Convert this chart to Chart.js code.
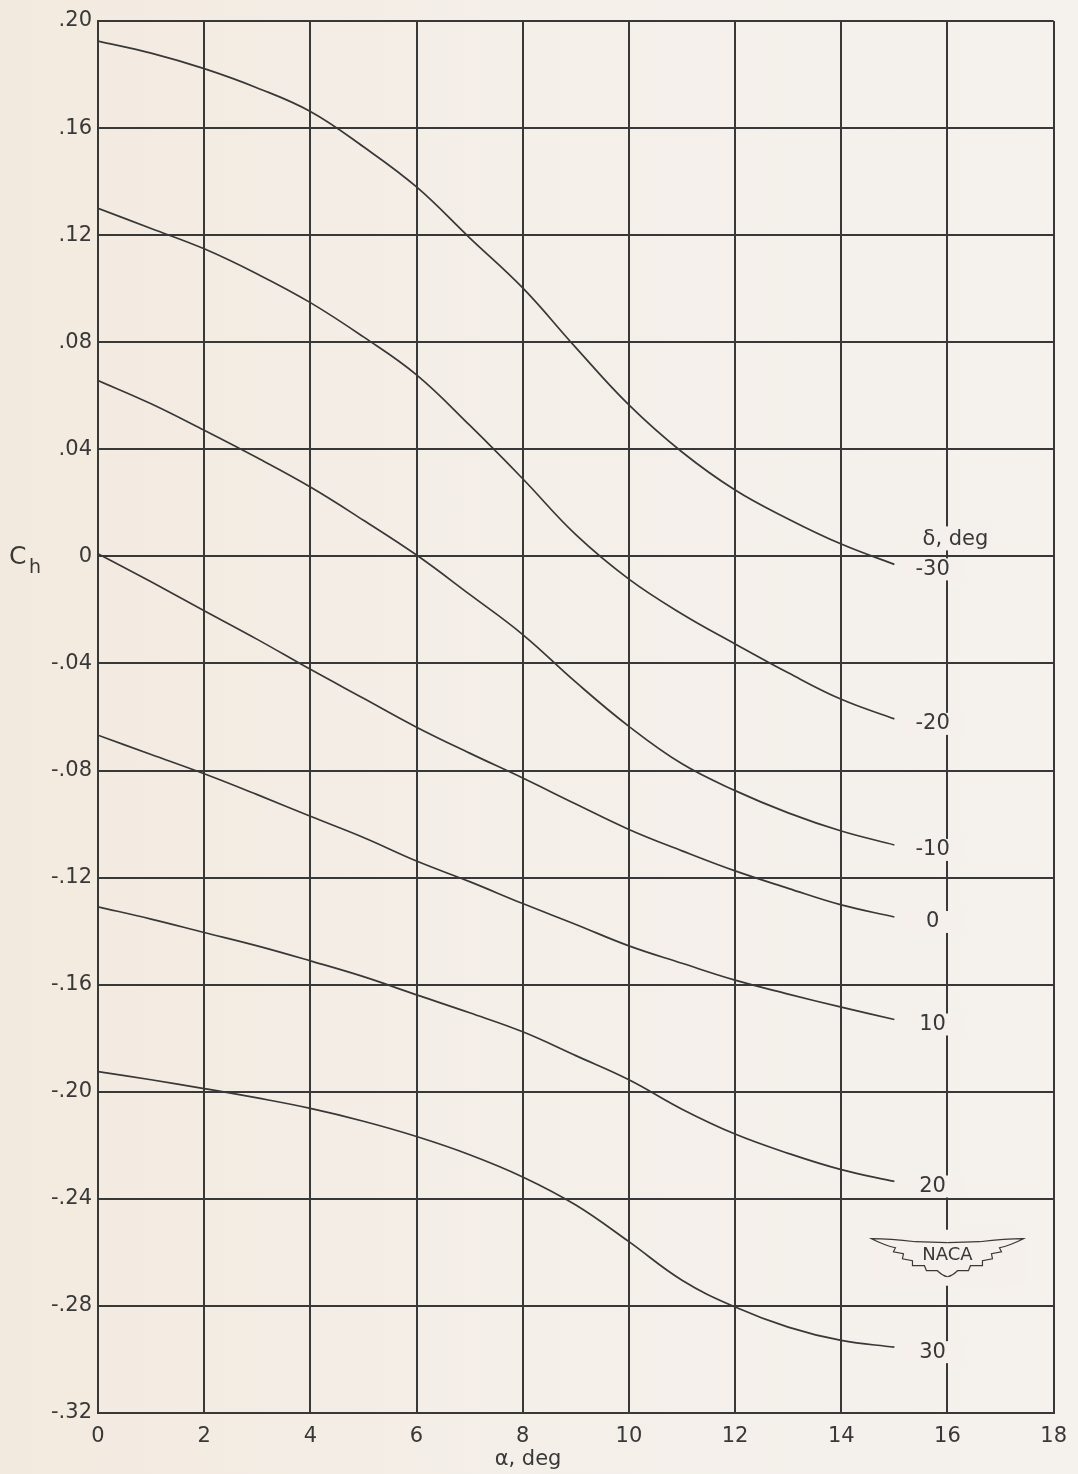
<!DOCTYPE html>
<html>
<head>
<meta charset="utf-8">
<script src="https://cdn.jsdelivr.net/npm/chart.js@4.4.0/dist/chart.umd.min.js"></script>
<style>
html, body { margin: 0; padding: 0; background: #f4efe8; }
#wrap { width: 1078px; height: 1474px; position: relative;
        background: linear-gradient(to right, #f3eadf 0%, #f4efe9 50%, #f5f1ed 100%); }
</style>
</head>
<body>
<div id="wrap"><canvas id="chart-ch"></canvas></div>
<script>
// alpha, deg
const ALPHA = [0, 1, 2, 3, 4, 5, 6, 7, 8, 9, 10, 11, 12, 13, 14, 15];

// hinge-moment coefficient Ch for each flap deflection delta
const CH_M30 = [0.1925, 0.188, 0.1822, 0.175, 0.1662, 0.153, 0.138, 0.119, 0.1003, 0.078, 0.0566, 0.039, 0.0248, 0.014, 0.0046, -0.003];
const CH_M20 = [0.130, 0.1225, 0.1149, 0.1055, 0.0948, 0.082, 0.0678, 0.049, 0.029, 0.0081, -0.0085, -0.0215, -0.0327, -0.0435, -0.0534, -0.0607];
const CH_M10 = [0.0657, 0.057, 0.0471, 0.0368, 0.0259, 0.0135, 0.0005, -0.0142, -0.0292, -0.047, -0.0635, -0.0775, -0.0875, -0.0958, -0.1026, -0.1078];
const CH_0   = [0.001, -0.0095, -0.0203, -0.031, -0.0422, -0.053, -0.0638, -0.0735, -0.0828, -0.0925, -0.102, -0.110, -0.1175, -0.124, -0.1302, -0.1347];
const CH_10  = [-0.0668, -0.074, -0.0812, -0.089, -0.0971, -0.105, -0.1138, -0.1215, -0.1297, -0.1375, -0.1455, -0.152, -0.1583, -0.1635, -0.1684, -0.173];
const CH_20  = [-0.1309, -0.1355, -0.1405, -0.1455, -0.1511, -0.157, -0.1638, -0.1705, -0.1776, -0.1865, -0.1955, -0.2065, -0.2158, -0.223, -0.2291, -0.2335];
const CH_30  = [-0.1925, -0.1955, -0.1988, -0.2023, -0.2062, -0.211, -0.2167, -0.2235, -0.2318, -0.2423, -0.256, -0.2704, -0.2804, -0.2879, -0.2929, -0.2954];

const DELTA_LABELS = ['-30', '-20', '-10', '0', '10', '20', '30'];
const SERIES = [CH_M30, CH_M20, CH_M10, CH_0, CH_10, CH_20, CH_30];

const X_TICKS = [0, 2, 4, 6, 8, 10, 12, 14, 16, 18];
const Y_TICKS = [0.20, 0.16, 0.12, 0.08, 0.04, 0, -0.04, -0.08, -0.12, -0.16, -0.20, -0.24, -0.28, -0.32];

const INK = '#383838';
const PAPER = '#f5f0ec';
const FONT = '"DejaVu Sans", sans-serif';

function fmtCh(v) {
    if (Math.abs(v) < 1e-9) return '0';
    return (v < 0 ? '-' : '') + Math.abs(v).toFixed(2).replace(/^0/, '');
}

// curve labels, delta heading, axis titles and the NACA wings
const annotations = {
    id: 'annotations',
    afterDatasetsDraw(chart) {
        const { ctx, scales: { x, y }, chartArea } = chart;
        ctx.save();
        ctx.fillStyle = INK;
        ctx.textAlign = 'center';
        ctx.textBaseline = 'middle';
        ctx.font = '21px ' + FONT;

        const lx = x.getPixelForValue(15.72);
        SERIES.forEach((vals, i) => {
            const py = y.getPixelForValue(vals[vals.length - 1]) + 5;
            ctx.fillStyle = PAPER;
            ctx.fillRect(lx - 31, py - 11, 62, 22);
            ctx.fillStyle = INK;
            ctx.fillText(DELTA_LABELS[i], lx, py);
        });

        // delta heading
        const hx = x.getPixelForValue(16.15), hy = y.getPixelForValue(CH_M30[CH_M30.length - 1]) - 25;
        ctx.fillStyle = PAPER;
        ctx.fillRect(hx - 38, hy - 13, 76, 24);
        ctx.fillStyle = INK;
        ctx.fillText('δ, deg', hx, hy);

        // x-axis title
        ctx.fillText('α, deg', x.getPixelForValue(8.1), chartArea.bottom + 47);

        // y-axis title C_h
        const cy = y.getPixelForValue(0);
        ctx.font = '25px ' + FONT;
        ctx.textAlign = 'left';
        ctx.fillText('C', 9, cy + 1);
        ctx.font = '19px ' + FONT;
        ctx.fillText('h', 29, cy + 12);

        // NACA wings
        const nx = x.getPixelForValue(16), ny = y.getPixelForValue(-0.2605);
        ctx.fillStyle = PAPER;
        ctx.fillRect(nx - 78, ny - 24, 156, 56);
        ctx.strokeStyle = INK;
        ctx.lineWidth = 1.2;
        [-1, 1].forEach(s => {
            ctx.beginPath();
            ctx.moveTo(nx, ny - 11);
            ctx.lineTo(nx + s * 32, ny - 12);
            ctx.quadraticCurveTo(nx + s * 58, ny - 15, nx + s * 76, ny - 15);
            ctx.quadraticCurveTo(nx + s * 62, ny - 8, nx + s * 52, ny - 6);
            ctx.lineTo(nx + s * 54, ny - 2);
            ctx.lineTo(nx + s * 44, ny);
            ctx.lineTo(nx + s * 45, ny + 5);
            ctx.lineTo(nx + s * 35, ny + 7);
            ctx.lineTo(nx + s * 35, ny + 12);
            ctx.lineTo(nx + s * 23, ny + 12);
            ctx.lineTo(nx + s * 21, ny + 17);
            ctx.lineTo(nx + s * 10, ny + 17);
            ctx.quadraticCurveTo(nx + s * 5, ny + 22, nx, ny + 23);
            ctx.stroke();
        });
        ctx.fillStyle = INK;
        ctx.textAlign = 'center';
        ctx.font = '18px ' + FONT;
        ctx.fillText('NACA', nx, ny + 2);
        ctx.restore();
    }
};

new Chart(document.getElementById('chart-ch'), {
    type: 'line',
    data: {
        datasets: SERIES.map((vals, i) => ({
            label: DELTA_LABELS[i],
            data: ALPHA.map((a, j) => ({ x: a, y: vals[j] })),
            borderColor: INK,
            borderWidth: 1.7,
            pointRadius: 0,
            fill: false,
            tension: 0.4
        }))
    },
    options: {
        responsive: true, maintainAspectRatio: false, animation: false,
        layout: { padding: { left: 0, right: 18, top: 21, bottom: 0 } },
        plugins: { legend: { display: false }, tooltip: { enabled: false } },
        scales: {
            x: {
                type: 'linear', min: 0, max: 18,
                afterBuildTicks: s => { s.ticks = X_TICKS.map(v => ({ value: v })); },
                afterFit: s => { s.height = 61; },
                grid: { color: INK, lineWidth: 2, drawTicks: false },
                border: { color: INK, width: 2 },
                ticks: { color: INK, padding: 11, font: { size: 21, family: FONT }, maxRotation: 0, autoSkip: false }
            },
            y: {
                type: 'linear', min: -0.32, max: 0.20,
                afterBuildTicks: s => { s.ticks = Y_TICKS.map(v => ({ value: v })); },
                afterFit: s => { s.width = 98; },
                grid: { color: INK, lineWidth: 2, drawTicks: false },
                border: { color: INK, width: 2 },
                ticks: { color: INK, padding: 6, font: { size: 21, family: FONT }, autoSkip: false, callback: v => fmtCh(v) }
            }
        }
    },
    plugins: [annotations]
});
</script>
</body>
</html>
